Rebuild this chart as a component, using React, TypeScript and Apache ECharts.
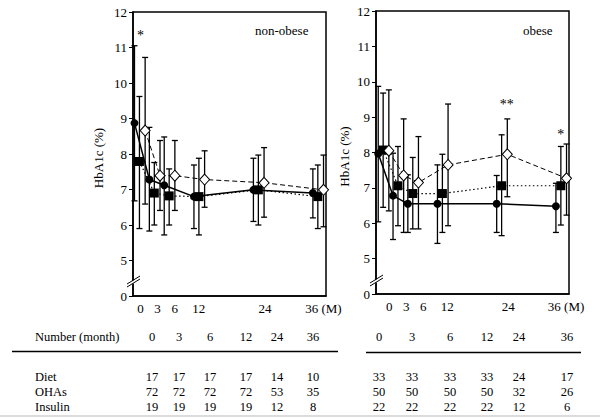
import React, { useEffect, useRef } from 'react';
import * as echarts from 'echarts';

// ---------- data ----------
const MONTHS = [0, 3, 6, 12, 24, 36];
const X_TICK_LABELS = ['0', '3', '6', '12', '24', '36 (M)'];

// non-obese panel
const NO_DIET_MEAN = [8.87, 7.28, 7.12, 6.8, 6.99, 6.9];
const NO_DIET_LOW = [6.68, 5.83, 5.72, 5.9, 6.1, 6.2];
const NO_DIET_HIGH = [11.05, 8.75, 8.48, 7.69, 7.88, 7.58];
const NO_OHA_MEAN = [7.79, 6.9, 6.82, 6.8, 6.99, 6.8];
const NO_OHA_LOW = [5.9, 6.0, 6.0, 5.72, 6.0, 5.9];
const NO_OHA_HIGH = [9.62, 7.76, 7.58, 7.88, 7.97, 7.69];
const NO_INS_MEAN = [8.66, 7.39, 7.39, 7.28, 7.19, 6.99];
const NO_INS_LOW = [6.59, 6.41, 6.41, 6.5, 6.22, 5.95];
const NO_INS_HIGH = [10.72, 8.38, 8.38, 8.09, 8.18, 7.97];

// obese panel
const OB_DIET_MEAN = [7.97, 6.78, 6.55, 6.55, 6.55, 6.48];
const OB_DIET_LOW = [6.04, 5.54, 5.74, 5.43, 5.74, 5.74];
const OB_DIET_HIGH = [9.87, 7.98, 7.37, 7.65, 7.35, 7.13];
const OB_OHA_MEAN = [8.07, 7.06, 6.84, 6.84, 7.06, 7.06];
const OB_OHA_LOW = [6.45, 5.93, 5.84, 5.74, 5.65, 5.95];
const OB_OHA_HIGH = [9.68, 8.17, 7.86, 7.95, 8.5, 8.17];
const OB_INS_MEAN = [8.05, 7.35, 7.15, 7.65, 7.95, 7.27];
const OB_INS_LOW = [6.35, 5.74, 5.84, 5.93, 6.75, 6.23];
const OB_INS_HIGH = [9.77, 8.95, 8.45, 9.37, 8.95, 8.24];

// significance marks (month, HbA1c, text)
const NO_SIG_X = [1.2];
const NO_SIG_Y = [11.35];
const NO_SIG_TEXT = ['*'];
const OB_SIG_X = [26.05, 37.0];
const OB_SIG_Y = [9.37, 8.5];
const OB_SIG_TEXT = ['**', '*'];

// table
const TABLE_HEAD = 'Number (month)';
const TABLE_MONTHS = ['0', '3', '6', '12', '24', '36'];
const ROW_LABELS = ['Diet', 'OHAs', 'Insulin'];
const NO_N_DIET = [17, 17, 17, 17, 14, 10];
const NO_N_OHA = [72, 72, 72, 72, 53, 35];
const NO_N_INS = [19, 19, 19, 19, 12, 8];
const OB_N_DIET = [33, 33, 33, 33, 24, 17];
const OB_N_OHA = [50, 50, 50, 50, 32, 26];
const OB_N_INS = [22, 22, 22, 22, 12, 6];

// ---------- layout ----------
const FONT = 'Liberation Serif';
const DODGE = [0, 1.0, 2.15];
const LEFT_LABEL_POS = [1.21, 4.63, 8.15, 12.98, 26.36, 38.13];
const RIGHT_LABEL_POS = [2.23, 5.67, 9.11, 13.97, 26.32, 38.06];
const TABLE_COL_LEFT = [152, 179, 210, 246, 277, 313];
const TABLE_COL_RIGHT = [379, 412, 450, 487, 519, 567];
const TABLE_ROW_Y = [377, 392, 407];

function pts(means: number[], off: number) {
  return means.map((v, i) => [MONTHS[i] + off, v]);
}
function bars(low: number[], high: number[], off: number) {
  return low.map((l, i) => [MONTHS[i] + off, l, high[i]]);
}

const errRender = (params: any, api: any) => {
  const x = api.value(0);
  const lo = api.coord([x, api.value(1)]);
  const hi = api.coord([x, api.value(2)]);
  const cap = 3;
  const style = { stroke: '#000', lineWidth: 1.3 };
  return {
    type: 'group',
    children: [
      { type: 'line', shape: { x1: lo[0], y1: lo[1], x2: hi[0], y2: hi[1] }, style },
      { type: 'line', shape: { x1: lo[0] - cap, y1: lo[1], x2: lo[0] + cap, y2: lo[1] }, style },
      { type: 'line', shape: { x1: hi[0] - cap, y1: hi[1], x2: hi[0] + cap, y2: hi[1] }, style },
    ],
  };
};

function panelSeries(idx: number, groups: { mean: number[]; low: number[]; high: number[] }[], sx: number[], sy: number[], st: string[]) {
  const styles = [
    { name: 'Diet', symbol: 'circle', size: 8, item: { color: '#000' }, line: { color: '#000', width: 1.5, type: 'solid' } },
    { name: 'OHAs', symbol: 'rect', size: 9, item: { color: '#000' }, line: { color: '#000', width: 1.2, type: [1.5, 2.5] } },
    { name: 'Insulin', symbol: 'diamond', size: [10, 11], item: { color: '#fff', borderColor: '#000', borderWidth: 1 }, line: { color: '#000', width: 1, type: [5, 3] } },
  ];
  const out: any[] = [];
  groups.forEach((g, k) => {
    out.push({
      type: 'custom',
      name: styles[k].name + ' SD',
      xAxisIndex: idx,
      yAxisIndex: idx,
      renderItem: errRender,
      encode: { x: 0, y: [1, 2] },
      data: bars(g.low, g.high, DODGE[k]),
      z: 1,
      silent: true,
    });
  });
  groups.forEach((g, k) => {
    const s = styles[k];
    out.push({
      type: 'line',
      name: s.name,
      xAxisIndex: idx,
      yAxisIndex: idx,
      data: pts(g.mean, DODGE[k]),
      symbol: s.symbol,
      symbolSize: s.size,
      showSymbol: true,
      itemStyle: s.item,
      lineStyle: s.line,
      z: 3,
      silent: true,
      emphasis: { disabled: true },
    });
  });
  out.push({
    type: 'custom',
    name: 'significance',
    xAxisIndex: idx,
    yAxisIndex: idx,
    data: sx.map((x, i) => [x, sy[i], i]),
    encode: { x: 0, y: 1 },
    renderItem: (params: any, api: any) => {
      const p = api.coord([api.value(0), api.value(1)]);
      return {
        type: 'text',
        x: p[0],
        y: p[1],
        style: { text: st[api.value(2)], fill: '#000', fontSize: 14, fontFamily: FONT, textAlign: 'center', textVerticalAlign: 'middle' },
      };
    },
    silent: true,
    z: 4,
  });
  return out;
}

function xAxis(idx: number, min: number, pos: number[]) {
  return {
    type: 'value',
    gridIndex: idx,
    min,
    max: 38.65,
    splitLine: { show: false },
    axisTick: { show: false },
    axisLine: { onZero: false, lineStyle: { color: '#000', width: 1.5 } },
    axisLabel: {
      customValues: pos,
      formatter: (v: number) => {
        const i = pos.findIndex((p) => Math.abs(p - v) < 1e-6);
        return i >= 0 ? X_TICK_LABELS[i] : '';
      },
      color: '#000',
      fontSize: 13,
      fontFamily: FONT,
      margin: 6,
    },
  };
}

function yAxis(idx: number, gap: number) {
  return {
    type: 'value',
    gridIndex: idx,
    min: 4,
    max: 12,
    interval: 1,
    splitLine: { show: false },
    axisLine: { show: true, onZero: false, lineStyle: { color: '#000', width: 1.5 } },
    axisTick: { show: true, inside: false, length: 4, lineStyle: { color: '#000' } },
    axisLabel: {
      formatter: (v: number) => (v === 4 ? '0' : String(v)),
      color: '#000',
      fontSize: 13,
      fontFamily: FONT,
      margin: 6,
    },
    name: 'HbA1c (%)',
    nameLocation: 'middle',
    nameGap: gap,
    nameRotate: 90,
    nameTextStyle: { color: '#000', fontSize: 13, fontFamily: FONT, padding: [0, 8, 0, 0] },
  };
}

function breakMark(x: number, y: number) {
  return [
    { type: 'polygon', shape: { points: [[x - 5, y + 5], [x + 6, y - 2], [x + 6, y + 1], [x - 5, y + 8]] }, style: { fill: '#fff' }, z: 100 },
    { type: 'line', shape: { x1: x - 6, y1: y + 5, x2: x + 7, y2: y - 3 }, style: { stroke: '#000', lineWidth: 1 }, z: 101 },
    { type: 'line', shape: { x1: x - 6, y1: y + 8, x2: x + 7, y2: y }, style: { stroke: '#000', lineWidth: 1 }, z: 101 },
  ];
}

function tableGraphics() {
  const g: any[] = [];
  const txt = (text: string, x: number, y: number, align: string) => ({
    type: 'text',
    x,
    y,
    style: { text, fill: '#000', fontSize: 12.5, fontFamily: FONT, textAlign: align, textVerticalAlign: 'middle' },
  });
  g.push(txt(TABLE_HEAD, 35, 337, 'left'));
  TABLE_MONTHS.forEach((m, i) => {
    g.push(txt(m, TABLE_COL_LEFT[i], 337, 'center'));
    g.push(txt(m, TABLE_COL_RIGHT[i], 337, 'center'));
  });
  g.push({ type: 'line', shape: { x1: 12, y1: 351.5, x2: 338, y2: 351.5 }, style: { stroke: '#000', lineWidth: 1.5 } });
  g.push({ type: 'line', shape: { x1: 366, y1: 352.5, x2: 581, y2: 352.5 }, style: { stroke: '#000', lineWidth: 1.5 } });
  const leftRows = [NO_N_DIET, NO_N_OHA, NO_N_INS];
  const rightRows = [OB_N_DIET, OB_N_OHA, OB_N_INS];
  ROW_LABELS.forEach((lab, r) => {
    const y = TABLE_ROW_Y[r];
    g.push(txt(lab, 35, y, 'left'));
    leftRows[r].forEach((n, i) => g.push(txt(String(n), TABLE_COL_LEFT[i], y, 'center')));
    rightRows[r].forEach((n, i) => g.push(txt(String(n), TABLE_COL_RIGHT[i], y, 'center')));
  });
  g.push({ type: 'rect', shape: { x: 0, y: 415, width: 600, height: 2 }, style: { fill: '#dcdcdc' } });
  return g;
}

export default function App() {
  const ref = useRef<HTMLDivElement>(null);
  useEffect(() => {
    if (!ref.current) return;
    const chart = echarts.init(ref.current, null, { renderer: 'svg' });
    const option: any = {
      animation: false,
      backgroundColor: '#fff',
      textStyle: { fontFamily: FONT },
      grid: [
        { left: 133, top: 12, width: 193, height: 284, show: true, borderColor: '#000', borderWidth: 1.5, backgroundColor: 'transparent' },
        { left: 376, top: 11, width: 193, height: 283, show: true, borderColor: '#000', borderWidth: 1.5, backgroundColor: 'transparent' },
      ],
      xAxis: [xAxis(0, -0.3, LEFT_LABEL_POS), xAxis(1, -0.45, RIGHT_LABEL_POS)],
      yAxis: [yAxis(0, 28), yAxis(1, 25)],
      series: [
        ...panelSeries(
          0,
          [
            { mean: NO_DIET_MEAN, low: NO_DIET_LOW, high: NO_DIET_HIGH },
            { mean: NO_OHA_MEAN, low: NO_OHA_LOW, high: NO_OHA_HIGH },
            { mean: NO_INS_MEAN, low: NO_INS_LOW, high: NO_INS_HIGH },
          ],
          NO_SIG_X,
          NO_SIG_Y,
          NO_SIG_TEXT
        ),
        ...panelSeries(
          1,
          [
            { mean: OB_DIET_MEAN, low: OB_DIET_LOW, high: OB_DIET_HIGH },
            { mean: OB_OHA_MEAN, low: OB_OHA_LOW, high: OB_OHA_HIGH },
            { mean: OB_INS_MEAN, low: OB_INS_LOW, high: OB_INS_HIGH },
          ],
          OB_SIG_X,
          OB_SIG_Y,
          OB_SIG_TEXT
        ),
      ],
      graphic: [
        { type: 'text', x: 255, y: 30, style: { text: 'non-obese', fill: '#000', fontSize: 13, fontFamily: FONT, textVerticalAlign: 'middle' } },
        { type: 'text', x: 523, y: 30, style: { text: 'obese', fill: '#000', fontSize: 13, fontFamily: FONT, textVerticalAlign: 'middle' } },
        ...breakMark(133, 279),
        ...breakMark(376, 278),
        ...tableGraphics(),
      ],
    };
    chart.setOption(option);
    return () => chart.dispose();
  }, []);
  return <div ref={ref} style={{ position: 'absolute', left: 0, top: 0, width: 600, height: 418, background: '#fff' }} />;
}
